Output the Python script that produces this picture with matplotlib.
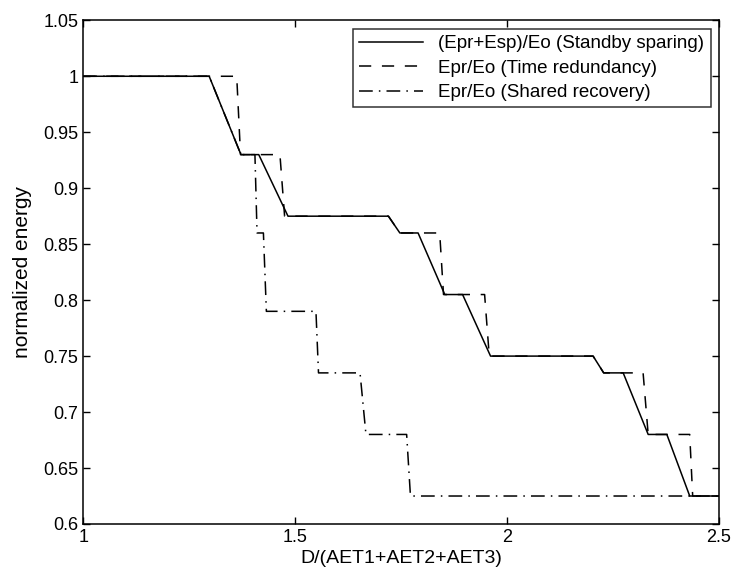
import numpy as np
import matplotlib
matplotlib.use("Agg")
import matplotlib.pyplot as plt

plt.rcParams['font.family'] = ['Liberation Sans', 'DejaVu Sans']

# breakpoints
d_standby = [1.0, 1.297, 1.372, 1.414, 1.483, 1.72, 1.747, 1.79, 1.853, 1.895,
             1.961, 2.203, 2.228, 2.274, 2.333, 2.377, 2.431, 2.5]
e_standby = [1.0, 1.0, 0.93, 0.93, 0.875, 0.875, 0.86, 0.86, 0.805, 0.805,
             0.75, 0.75, 0.735, 0.735, 0.68, 0.68, 0.625, 0.625]

d_time = [1.0, 1.362, 1.371, 1.464, 1.475, 1.72, 1.747, 1.841, 1.85, 1.947,
          1.958, 2.203, 2.228, 2.321, 2.333, 2.431, 2.438, 2.5]
e_time = [1.0, 1.0, 0.93, 0.93, 0.875, 0.875, 0.86, 0.86, 0.805, 0.805,
          0.75, 0.75, 0.735, 0.735, 0.68, 0.68, 0.625, 0.625]

d_shared = [1.0, 1.297, 1.372, 1.405, 1.41, 1.425, 1.432, 1.549, 1.555,
            1.653, 1.667, 1.763, 1.772, 2.5]
e_shared = [1.0, 1.0, 0.93, 0.93, 0.86, 0.86, 0.79, 0.79, 0.735,
            0.735, 0.68, 0.68, 0.625, 0.625]

labels = ["(Epr+Esp)/Eo (Standby sparing)",
          "Epr/Eo (Time redundancy)",
          "Epr/Eo (Shared recovery)"]

xticks = [1, 1.5, 2, 2.5]
yticks = [0.6, 0.65, 0.7, 0.75, 0.8, 0.85, 0.9, 0.95, 1, 1.05]

fig = plt.figure(figsize=(7.34, 5.75), dpi=100)
ax = fig.add_axes([0.1135, 0.0887, 0.866, 0.876])

ax.plot(d_standby, e_standby, color='black', lw=1.1, linestyle='-', label=labels[0])
ax.plot(d_time, e_time, color='black', lw=1.1, linestyle=(0, (8, 7)), label=labels[1])
ax.plot(d_shared, e_shared, color='black', lw=1.1, linestyle=(0, (9, 4, 1, 4)), label=labels[2])

ax.set_xlim(1, 2.5)
ax.set_ylim(0.6, 1.05)
ax.set_xticks(xticks)
ax.set_xticklabels([f"{t:g}" for t in xticks])
ax.set_yticks(yticks)
ax.set_yticklabels([f"{t:g}" for t in yticks])
ax.tick_params(direction='in', length=5, top=True, right=True, labelsize=13, width=1)
for s in ax.spines.values():
    s.set_linewidth(1.1)

ax.set_xlabel("D/(AET1+AET2+AET3)", fontsize=14, labelpad=3)
ax.set_ylabel("normalized energy", fontsize=15, labelpad=8)

leg = ax.legend(loc='upper right', fontsize=13.5, frameon=True, fancybox=False,
                edgecolor='black', handlelength=3.4, labelspacing=0.39,
                borderaxespad=0.45, borderpad=0.34, handletextpad=0.8)
leg.get_frame().set_linewidth(1.1)

fig.savefig("out.png", dpi=100)
